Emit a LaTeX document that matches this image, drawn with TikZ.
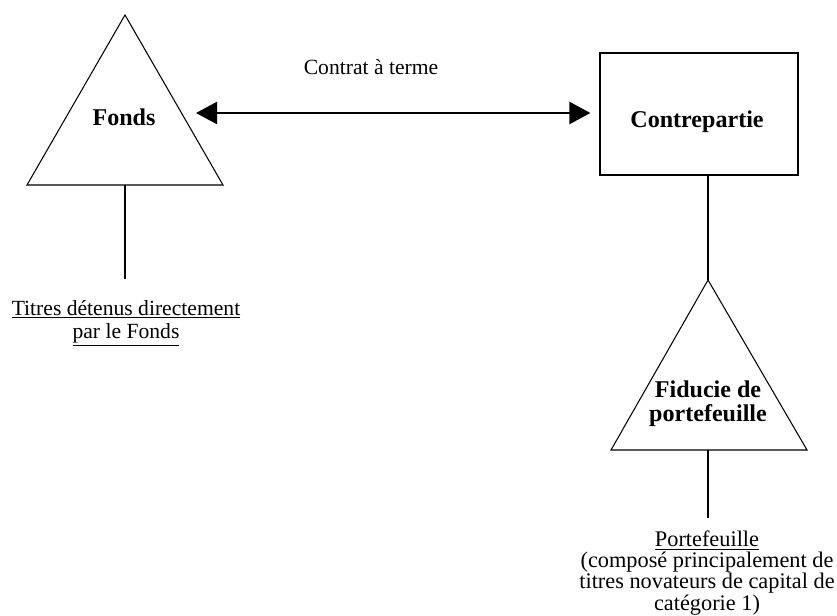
\documentclass[tikz,border=0pt]{standalone}
\usepackage{fontspec}
\setmainfont{Liberation Serif}
\usetikzlibrary{arrows.meta}
\def\scale{0.02cm}

\begin{document}
\begin{tikzpicture}[x=\scale, y=-\scale, line width=0.6pt,
	lbl/.style={font=\fontsize{12.3}{13}\selectfont, align=center, inner sep=0pt, anchor=base},
	bold/.style={font=\fontsize{13.7}{13.6}\selectfont\bfseries, align=center, inner sep=0pt, anchor=base}]
	\useasboundingbox (0,0) rectangle (837,615);

	\coordinate (FT) at (125,15);
	\coordinate (FL) at (27,185);
	\coordinate (FR) at (223,185);
	\coordinate (FB) at (125,185);
	\coordinate (FE) at (125,279);
	\coordinate (FA) at (196,113);

	\coordinate (PT) at (708,280);
	\coordinate (PL) at (611,450);
	\coordinate (PR) at (807,450);
	\coordinate (PB) at (708,450);
	\coordinate (PE) at (708,518);

	\draw (FL) -- (FT) -- (FR) -- cycle;
	\draw (PL) -- (PT) -- (PR) -- cycle;
	\node[draw, line width=0.7pt, minimum width=3.96cm, minimum height=2.44cm] (box) at (699,114) {};

	\node[bold] (fonds) at (124,125) {Fonds};
	\node[bold] (contrepartie) at (697,127) {Contrepartie};
	\node[bold] (fiducie) at (708,421) {Fiducie de\\portefeuille};
	\node[lbl] (contrat) at (371,74) {Contrat à terme};
	\node[lbl] (titres) at (126,338) {\underline{Titres détenus directement}\\\underline{par le Fonds}};
	\node[lbl, font=\fontsize{12.7}{12.1}\selectfont] (portef) at (707,610) {\underline{Portefeuille}\\(composé principalement de\\titres novateurs de capital de\\catégorie 1)};

	\draw[line width=1.3pt, arrows={Triangle[length=0.42cm, width=0.44cm]-Triangle[length=0.42cm, width=0.44cm]}, shorten >=0.18cm] (FA) -- (FA -| box.west);

	\draw (FB) -- (FE);
	\draw (box.south -| PT) -- (PT);
	\draw (PB) -- (PE);
\end{tikzpicture}
\end{document}
